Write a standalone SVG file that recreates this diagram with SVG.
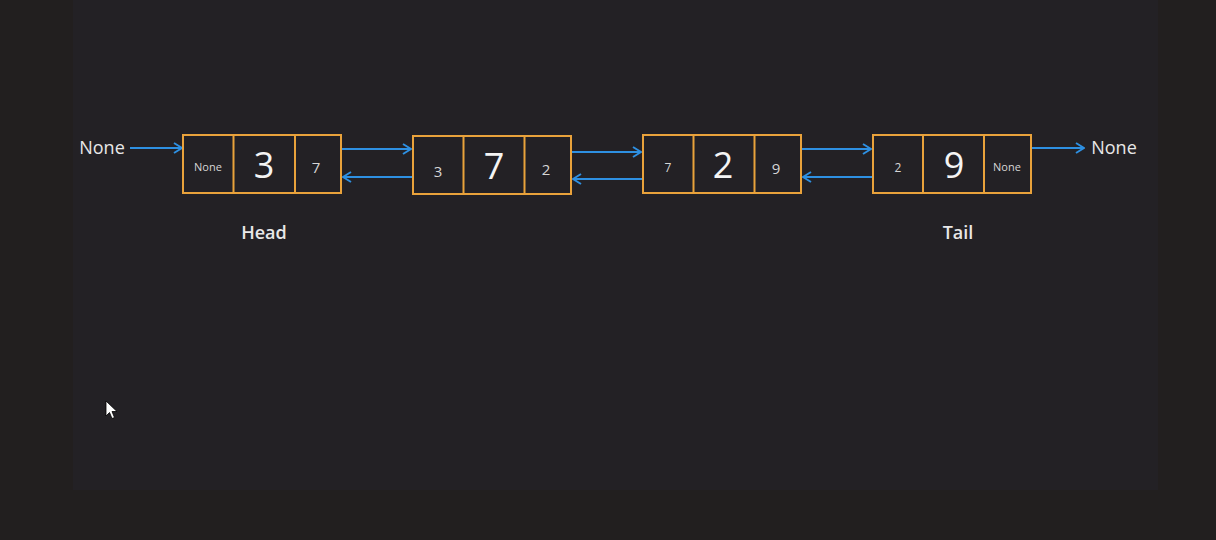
<svg xmlns="http://www.w3.org/2000/svg" width="1216" height="540" viewBox="0 0 1216 540">
<style>
.cell{fill:#232125;stroke:#e9a23b;stroke-width:2}
.div{stroke:#e9a23b;stroke-width:2}
.conn{stroke:#2e90e2;stroke-width:2;fill:none}
text{font-family:"Open Sans","Noto Sans","Liberation Sans",sans-serif;fill:#eeeeee;text-anchor:middle}
.big{font-size:36px;fill:#f4f4f4}
.sm{font-size:15px;fill:#d6d6d6}
.xs{font-size:12px;fill:#d6d6d6}
.nn{font-size:11px;fill:#d6d6d6}
.lbl{font-size:18px;fill:#e8e8e8}
.cap{font-size:18px;font-weight:600;fill:#e8e8e8}
</style>
<defs>
<marker id="ah" viewBox="0 0 10 12" refX="9" refY="6" markerWidth="10" markerHeight="12" markerUnits="userSpaceOnUse" orient="auto">
<path d="M1,1 L9,6 L1,11" fill="none" stroke="#2e90e2" stroke-width="2"/>
</marker>
</defs>
<rect x="0" y="0" width="1216" height="540" fill="#221f1f"/>
<rect x="73" y="0" width="1085" height="490" fill="#232125"/>

<g id="connectors">
<line class="conn" x1="130" y1="148" x2="182" y2="148" marker-end="url(#ah)"/>
<line class="conn" x1="342" y1="149" x2="411" y2="149" marker-end="url(#ah)"/>
<line class="conn" x1="412" y1="177" x2="343" y2="177" marker-end="url(#ah)"/>
<line class="conn" x1="572" y1="152" x2="641" y2="152" marker-end="url(#ah)"/>
<line class="conn" x1="642" y1="179" x2="573" y2="179" marker-end="url(#ah)"/>
<line class="conn" x1="802" y1="149" x2="871" y2="149" marker-end="url(#ah)"/>
<line class="conn" x1="872" y1="177" x2="803" y2="177" marker-end="url(#ah)"/>
<line class="conn" x1="1032" y1="148" x2="1084" y2="148" marker-end="url(#ah)"/>
</g>

<g id="none-left"><text class="lbl" x="102" y="154">None</text></g>
<g id="none-right"><text class="lbl" x="1114" y="154">None</text></g>

<g id="node1">
<rect class="cell" x="183" y="135" width="158" height="58"/>
<line class="div" x1="233.5" y1="135" x2="233.5" y2="193"/>
<line class="div" x1="295" y1="135" x2="295" y2="193"/>
<text class="nn" x="208" y="171">None</text>
<text class="big" x="264" y="178">3</text>
<text class="sm" x="316" y="173">7</text>
</g>

<g id="node2">
<rect class="cell" x="413" y="136" width="158" height="58"/>
<line class="div" x1="463.5" y1="136" x2="463.5" y2="194"/>
<line class="div" x1="524.5" y1="136" x2="524.5" y2="194"/>
<text class="sm" x="438" y="177">3</text>
<text class="big" x="494" y="179">7</text>
<text class="sm" x="546" y="175">2</text>
</g>

<g id="node3">
<rect class="cell" x="643" y="135" width="158" height="58"/>
<line class="div" x1="693.5" y1="135" x2="693.5" y2="193"/>
<line class="div" x1="754.5" y1="135" x2="754.5" y2="193"/>
<text class="xs" x="668" y="172">7</text>
<text class="big" x="723" y="178">2</text>
<text class="sm" x="776" y="174">9</text>
</g>

<g id="node4">
<rect class="cell" x="873" y="135" width="158" height="58"/>
<line class="div" x1="923" y1="135" x2="923" y2="193"/>
<line class="div" x1="984" y1="135" x2="984" y2="193"/>
<text class="xs" x="898" y="172">2</text>
<text class="big" x="954" y="178">9</text>
<text class="nn" x="1007" y="171">None</text>
</g>

<g id="head"><text class="cap" x="264" y="239">Head</text></g>
<g id="tail"><text class="cap" x="958" y="239">Tail</text></g>

<path d="M106,401 L106,416 L109.5,412.5 L112,418.5 L114.5,417.5 L112,411.5 L117,411.5 Z" fill="#ffffff" stroke="#000000" stroke-width="0.8"/>
</svg>
